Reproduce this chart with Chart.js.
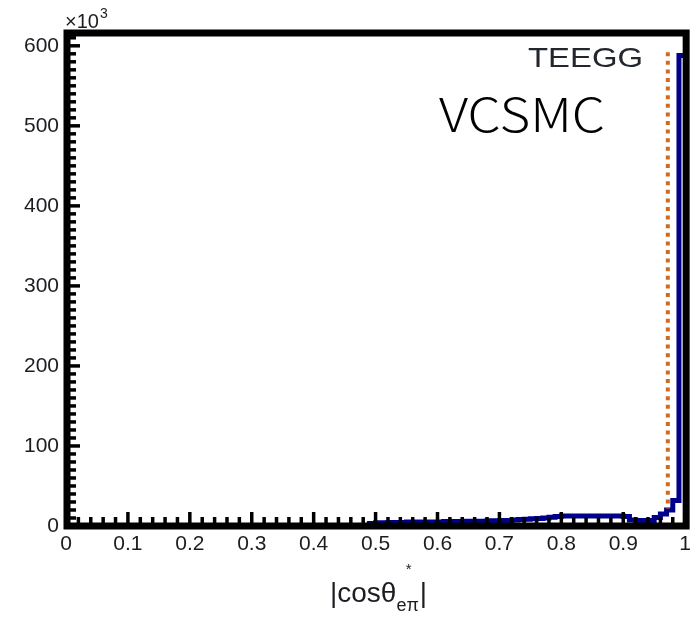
<!DOCTYPE html>
<html>
<head>
<meta charset="utf-8">
<script src="https://cdn.jsdelivr.net/npm/chart.js@4/dist/chart.umd.min.js"></script>
<style>
  html, body { margin: 0; padding: 0; background: #ffffff; }
  canvas { display: block; }
</style>
</head>
<body>
<canvas id="chart" width="697" height="618"></canvas>
<script>
// |cos theta*| distribution, 100 bins of width 0.01, entries in units of 10^3
const binWidth = 0.01;
const vcsmcCounts = [
  0, 0, 0, 0, 0, 0, 0, 0, 0, 0,
  0, 0, 0, 0, 0, 0, 0, 0, 0, 0,
  0, 0, 0, 0, 0, 0, 0, 0, 0, 0,
  0, 0, 0, 0, 0, 0, 0, 0, 0, 0,
  0, 0, 0, 0, 0, 0, 0, 0, 0, 3,
  4, 4, 4.5, 4.5, 4.5, 5, 5, 5, 5, 5,
  5, 5.5, 5.5, 5.5, 6, 6, 6, 6, 6.5, 6.5,
  7, 7, 7.5, 8, 8.5, 9, 9.5, 10, 11, 12,
  12.5, 12.5, 12.5, 12.5, 12.5, 12.5, 12.5, 12.5, 12.5, 12.5,
  12, 7.5, 7, 7, 7, 10.5, 15, 20, 32, 588
];
// TEEGG rising edge (dotted)
const teeggEdgeX = [0.972, 0.972];
const teeggEdgeY = [592, 22];

const seriesNames = ['TEEGG', 'VCSMC'];
const xTickValues = [0, 0.1, 0.2, 0.3, 0.4, 0.5, 0.6, 0.7, 0.8, 0.9, 1];
const xTickLabels = ['0', '0.1', '0.2', '0.3', '0.4', '0.5', '0.6', '0.7', '0.8', '0.9', '1'];
const yTickValues = [0, 100, 200, 300, 400, 500, 600];
const yTickLabels = ['0', '100', '200', '300', '400', '500', '600'];
const xMinorStep = 0.02;
const yMinorStep = 10;
const yMax = 616;

const FONT = '"Liberation Sans", Arial, Helvetica, sans-serif';
const TEXT = '#1c1c22';

const vcsmcPoints = vcsmcCounts.map((c, i) => ({ x: i * binWidth, y: c }));
vcsmcPoints.push({ x: 1, y: vcsmcCounts[vcsmcCounts.length - 1] });
const teeggPoints = teeggEdgeX.map((x, i) => ({ x: x, y: teeggEdgeY[i] }));

// Frame, inward tick marks and the annotation texts
const framePlugin = {
  id: 'frame',
  afterDatasetsDraw(chart) {
    const { ctx, chartArea: a, scales } = chart;
    const xs = scales.x, ys = scales.y;
    ctx.save();
    ctx.strokeStyle = '#000';
    ctx.lineWidth = 3.5;
    ctx.lineCap = 'butt';
    // x ticks
    for (let v = 0; v <= 1.0001; v += xMinorStep) {
      const major = Math.abs(v * 10 - Math.round(v * 10)) < 1e-6;
      const px = xs.getPixelForValue(v);
      ctx.beginPath();
      ctx.moveTo(px, a.bottom);
      ctx.lineTo(px, a.bottom - (major ? 14 : 9));
      ctx.stroke();
    }
    // y ticks
    for (let v = 0; v <= yMax + 0.01; v += yMinorStep) {
      const major = v % 100 === 0;
      const py = ys.getPixelForValue(v);
      ctx.beginPath();
      ctx.moveTo(a.left, py);
      ctx.lineTo(a.left + (major ? 14 : 10), py);
      ctx.stroke();
    }
    // frame
    ctx.lineWidth = 7;
    ctx.strokeRect(a.left + 1, a.top, a.right - a.left, a.bottom - a.top);
    ctx.restore();
  },
  afterDraw(chart) {
    const { ctx } = chart;
    ctx.save();
    ctx.fillStyle = TEXT;
    ctx.textBaseline = 'alphabetic';
    ctx.textAlign = 'left';

    // axis multiplier
    ctx.font = '20px ' + FONT;
    ctx.fillText('\u00d710', 65, 28);
    const w10 = ctx.measureText('\u00d710').width;
    ctx.font = '14px ' + FONT;
    ctx.fillText('3', 65 + w10 + 1, 18);

    // series labels
    const drawFitted = (txt, font, x, y, width, color) => {
      ctx.font = font;
      const w = ctx.measureText(txt).width;
      ctx.save();
      ctx.translate(x, y);
      ctx.scale(width / w, 1);
      ctx.fillStyle = color;
      ctx.fillText(txt, 0, 0);
      ctx.restore();
    };
    drawFitted(seriesNames[0], '28px ' + FONT, 528, 67, 115, '#22262e');
    drawFitted(seriesNames[1], '300 46px "Noto Sans CJK JP", "Noto Sans", sans-serif', 439, 132, 166, '#000');

    // x axis title |cos theta*_{e pi}|
    let x = 330;
    const base = 602;
    ctx.font = '28px ' + FONT;
    const main = '|cos\u03b8';
    ctx.fillText(main, x, base);
    x += ctx.measureText(main).width;
    ctx.font = '18px ' + FONT;
    const sub = 'e\u03c0';
    const ws = ctx.measureText(sub).width;
    ctx.fillText(sub, x, base + 9);
    ctx.font = '15px ' + FONT;
    ctx.textAlign = 'center';
    ctx.fillText('*', x + ws / 2 + 1, 574);
    ctx.textAlign = 'left';
    ctx.font = '28px ' + FONT;
    ctx.fillText('|', x + ws + 1, base);
    ctx.restore();
  }
};

new Chart(document.getElementById('chart').getContext('2d'), {
  type: 'line',
  data: {
    datasets: [
      {
        label: seriesNames[0],
        data: teeggPoints,
        borderColor: '#d2691e',
        borderWidth: 4,
        borderDash: [4, 4.6],
        borderCapStyle: 'butt',
        pointRadius: 0,
        fill: false,
        order: 0
      },
      {
        label: seriesNames[1],
        data: vcsmcPoints,
        borderColor: '#00008c',
        borderWidth: 5,
        stepped: true,
        pointRadius: 0,
        fill: false,
        order: 1
      }
    ]
  },
  options: {
    responsive: false,
    animation: false,
    devicePixelRatio: 1,
    layout: { padding: { top: 33, right: 9, left: 0, bottom: 0 } },
    plugins: { legend: { display: false }, tooltip: { enabled: false } },
    scales: {
      x: {
        type: 'linear',
        min: 0,
        max: 1,
        grid: { display: false, drawTicks: false },
        border: { display: false },
        afterBuildTicks: s => { s.ticks = xTickValues.map(v => ({ value: v })); },
        afterFit: s => { s.height = 92; },
        ticks: {
          padding: 6,
          autoSkip: false,
          maxRotation: 0,
          color: TEXT,
          font: { family: FONT, size: 21 },
          callback: (v, i) => xTickLabels[i]
        }
      },
      y: {
        type: 'linear',
        min: 0,
        max: yMax,
        grid: { display: false, drawTicks: false },
        border: { display: false },
        afterBuildTicks: s => { s.ticks = yTickValues.map(v => ({ value: v })); },
        afterFit: s => { s.width = 66; },
        ticks: {
          padding: 7,
          color: TEXT,
          font: { family: FONT, size: 21 },
          callback: (v, i) => yTickLabels[i]
        }
      }
    }
  },
  plugins: [framePlugin]
});
</script>
</body>
</html>
